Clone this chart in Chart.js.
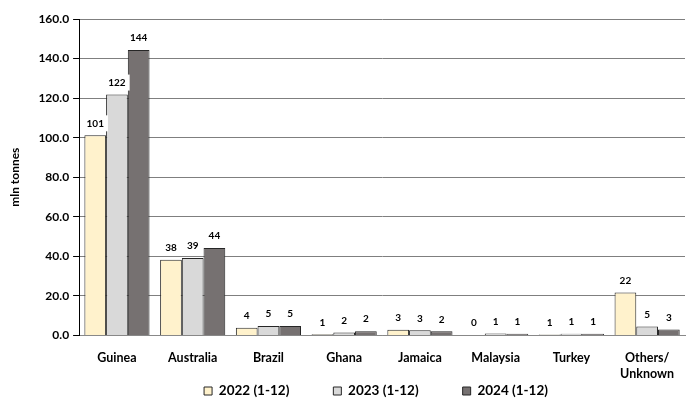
<!DOCTYPE html>
<html><head><meta charset="utf-8">
<script src="https://cdn.jsdelivr.net/npm/chart.js@4/dist/chart.umd.min.js"></script>
<style>html,body{margin:0;padding:0;background:#fff;}#wrap{width:687px;height:399px;}</style>
</head><body><div id="wrap"><canvas id="c" width="687" height="399"></canvas></div>
<script>
const categories = ['Guinea','Australia','Brazil','Ghana','Jamaica','Malaysia','Turkey',['Others/','Unknown']];
const seriesNames = ['2022 (1-12)','2023 (1-12)','2024 (1-12)'];
const values2022 = [101.2, 38.3, 3.9, 0.6, 2.9, 0.3, 0.5, 21.8];
const values2023 = [121.8, 39.2, 4.8, 1.5, 2.6, 1.0, 0.9, 4.6];
const values2024 = [144.3, 44.2, 4.8, 2.2, 2.1, 0.9, 0.9, 3.0];
const labels2022 = ['101','38','4','1','3','0','1','22'];
const labels2023 = ['122','39','5','2','3','1','1','5'];
const labels2024 = ['144','44','5','2','2','1','1','3'];
const yTicks = [0,20,40,60,80,100,120,140,160];

const FONT = 'Lato, "Open Sans", sans-serif';
const labelSets = [labels2022, labels2023, labels2024];
const LEGEND_PAD = 44, LEGEND_FONT = 13.5, LEGEND_CENTER_Y = 391, LEGEND_CENTER_X = 376;

const barLabelPlugin = {
  id: 'barLabels',
  afterDatasetsDraw(chart) {
    const ctx = chart.ctx;
    ctx.save();
    ctx.font = 'bold 10px ' + FONT;
    ctx.textAlign = 'center';
    ctx.textBaseline = 'middle';
    chart.data.datasets.forEach((ds, di) => {
      const meta = chart.getDatasetMeta(di);
      meta.data.forEach((bar, i) => {
        const txt = labelSets[di][i];
        const w = ctx.measureText(txt).width + 8;
        const cy = bar.y - 12;
        ctx.fillStyle = '#fff';
        ctx.fillRect(bar.x - w/2, cy - 8, w, 16);
        ctx.fillStyle = '#000';
        ctx.fillText(txt, bar.x, cy);
      });
    });
    ctx.restore();
  }
};

// Legend takes little layout space; move it so its row sits at the reference position.
const legendShift = {
  id: 'legendShift',
  afterLayout(chart) {
    const lg = chart.legend;
    if (!lg) return;
    const top = LEGEND_CENTER_Y - LEGEND_FONT / 2 - LEGEND_PAD;
    lg.top = top;
    lg.bottom = chart.height;
    lg.height = chart.height - top;
    const dx = LEGEND_CENTER_X - (lg.left + lg.right) / 2;
    lg.left += dx;
    lg.right += dx;
  }
};

new Chart(document.getElementById('c'), {
  type: 'bar',
  data: {
    labels: categories,
    datasets: [
      {label: seriesNames[0], data: values2022, backgroundColor: '#FFF2CC', borderColor: '#262626', borderWidth: 1},
      {label: seriesNames[1], data: values2023, backgroundColor: '#D9D9D9', borderColor: '#262626', borderWidth: 1},
      {label: seriesNames[2], data: values2024, backgroundColor: '#767171', borderColor: '#262626', borderWidth: 1}
    ]
  },
  options: {
    responsive: false,
    animation: false,
    layout: {padding: {top: 19, right: 2, left: 4, bottom: 0}},
    datasets: {bar: {categoryPercentage: 0.86, barPercentage: 1}},
    plugins: {
      legend: {
        position: 'bottom',
        maxHeight: 11,
        labels: {boxWidth: 8, boxHeight: 8, padding: LEGEND_PAD, color: '#000',
          font: {family: FONT, size: LEGEND_FONT, weight: 'bold'}}
      },
      tooltip: {enabled: false}
    },
    scales: {
      x: {
        grid: {display: false},
        border: {color: '#888', width: 1},
        ticks: {color: '#000', font: {family: FONT, size: 12.5, weight: 'bold', lineHeight: 1.3}, maxRotation: 0, padding: 6}
      },
      y: {
        min: 0, max: 160,
        afterBuildTicks: (axis) => { axis.ticks = yTicks.map(v => ({value: v})); },
        grid: {color: '#7f7f7f', tickLength: 6, tickColor: '#000'},
        border: {color: '#000', width: 1},
        ticks: {color: '#000', font: {family: FONT, size: 12, weight: 'bold'}, padding: 4,
          callback: (v) => Number(v).toFixed(1)},
        title: {display: true, text: 'mln tonnes', color: '#000', font: {family: FONT, size: 12, weight: 'bold'}, padding: {bottom: 12}}
      }
    }
  },
  plugins: [barLabelPlugin, legendShift]
});
</script></body></html>
